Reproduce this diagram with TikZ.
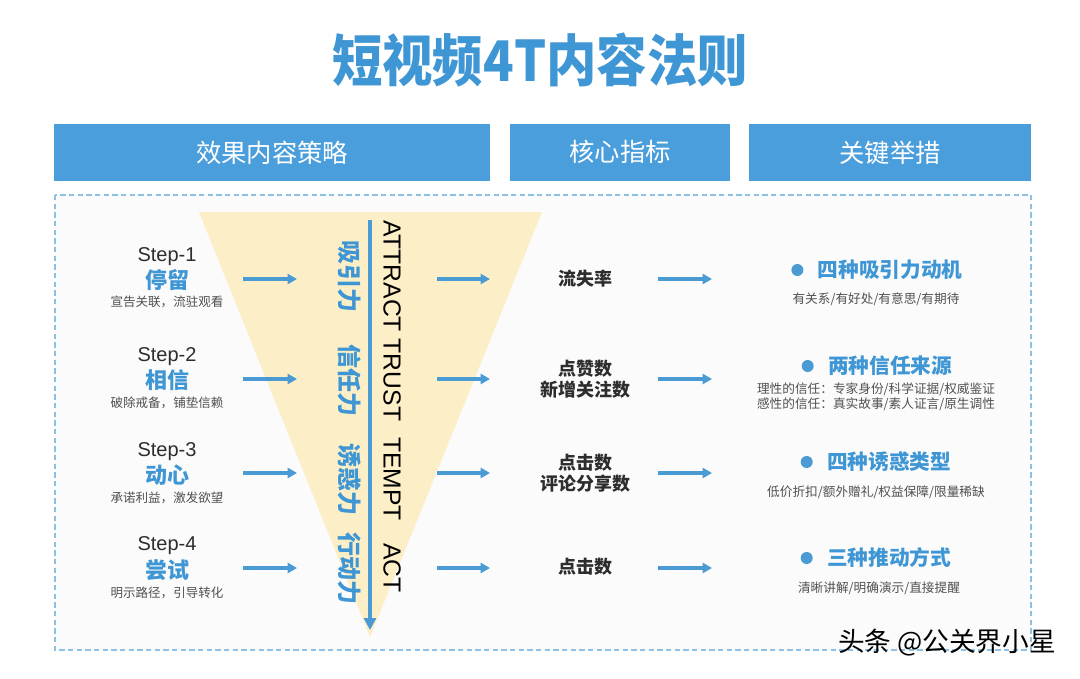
\documentclass[tikz,border=0pt]{standalone}
\usepackage{fontspec}
\setmainfont{Noto Sans CJK SC}
\newfontfamily\latinsf{Liberation Sans}
\usepackage{tikz}
\usepackage{xcolor}
\usetikzlibrary{shapes,arrows.meta,positioning,calc}

\definecolor{hdblue}{RGB}{74,158,219}
\definecolor{tblue}{RGB}{62,150,212}
\definecolor{arblue}{RGB}{74,155,212}
\definecolor{funnelc}{RGB}{252,238,198}
\definecolor{framec}{RGB}{140,192,228}
\definecolor{bgc}{RGB}{251,251,251}
\definecolor{dark}{RGB}{45,45,45}
\definecolor{subgray}{RGB}{80,80,80}

\begin{document}
\begin{tikzpicture}[
    x=0.75pt, y=-0.75pt,
    head/.style={rectangle, fill=hdblue, text=white, minimum height=42.75pt, font=\fontsize{19}{22}\selectfont},
    stepno/.style={font=\latinsf\fontsize{15}{17}\selectfont, text=dark},
    stepname/.style={font=\bfseries\fontsize{16.5}{18}\selectfont, text=tblue},
    stepsub/.style={font=\fontsize{9.4}{11}\selectfont, text=subgray},
    flow/.style={line width=2.4pt, arblue, -{Triangle[length=7pt,width=7.5pt]}},
    power/.style={rotate=-90, font=\bfseries\fontsize{18}{20}\selectfont, text=tblue},
    eng/.style={rotate=-90, font=\latinsf\fontsize{18.5}{20}\selectfont, text=black},
    metric/.style={align=center, font=\bfseries\fontsize{13.5}{16}\selectfont, text=dark},
    key/.style={font=\bfseries\fontsize{15.5}{18}\selectfont, text=tblue},
    dot/.style={circle, fill=arblue, inner sep=0pt, minimum size=9pt},
    keysub/.style={align=center, font=\fontsize{9.5}{11.5}\selectfont, text=subgray}
]
    \fill[white] (0,0) rectangle (1080,678);
    \useasboundingbox (0,0) rectangle (1080,678);

    % title and column heads
    \node[font=\bfseries\fontsize{42}{46}\selectfont, text=tblue, xscale=0.9] (title) at (540,60) {短视频4T内容法则};
    \node[head, minimum width=327pt] (h1) at (272,152.5) {效果内容策略};
    \node[head, minimum width=165pt] (h2) at (620,152) {核心指标};
    \node[head, minimum width=211.5pt] (h3) at (890,152.5) {关键举措};

    \draw[framec, fill=bgc, line width=0.8pt, dash pattern=on 4pt off 2.5pt] (55,195) rectangle (1031,650);

    % funnel
    \fill[funnelc] (199,212) -- (542,212) -- (370,637) -- cycle;
    \coordinate (vtop) at (370,220);
    \coordinate (vend) at (370,630);
    \draw[line width=2.4pt, arblue, -{Triangle[length=9pt,width=9pt]}] (vtop) -- (vend);

    \node[power] (p1) at (350,276) {吸引力};
    \node[power] (p2) at (350,380) {信任力};
    \node[power] (p3) at (350,479) {诱惑力};
    \node[power] (p4) at (350,568) {行动力};
    \node[eng] (e1) at (392,276) {ATTRACT};
    \node[eng] (e2) at (392,380) {TRUST};
    \node[eng] (e3) at (392,479) {TEMPT};
    \node[eng] (e4) at (392,568) {ACT};

    % steps
    \node[stepno] (n1) at (167,257) {Step-1};
    \node[stepname] (t1) at (167,280) {停留};
    \node[stepsub] (u1) at (167,302) {宣告关联，流驻观看};
    \node[stepno] (n2) at (167,357) {Step-2};
    \node[stepname] (t2) at (167,380) {相信};
    \node[stepsub] (u2) at (167,403) {破除戒备，铺垫信赖};
    \node[stepno] (n3) at (167,452) {Step-3};
    \node[stepname] (t3) at (167,475) {动心};
    \node[stepsub] (u3) at (167,498) {承诺利益，激发欲望};
    \node[stepno] (n4) at (167,546) {Step-4};
    \node[stepname] (t4) at (167,570) {尝试};
    \node[stepsub] (u4) at (167,593) {明示路径，引导转化};

    % metrics
    \node[metric] (m1) at (585,279) {流失率};
    \node[metric] (m2) at (585,379) {点赞数\\新增关注数};
    \node[metric] (m3) at (585,473) {点击数\\评论分享数};
    \node[metric] (m4) at (585,567) {点击数};

    % key measures
    \node[key] (k1) at (890,270) {四种吸引力动机};
    \node[dot, left=7pt of k1] (d1) {};
    \node[keysub] (s1) at (876,299) {有关系/有好处/有意思/有期待};
    \node[key] (k2) at (890,366) {两种信任来源};
    \node[dot, left=7pt of k2] (d2) {};
    \node[keysub] (s2) at (876,397) {理性的信任：专家身份/科学证据/权威鉴证\\感性的信任：真实故事/素人证言/原生调性};
    \node[key] (k3) at (889,462) {四种诱惑类型};
    \node[dot, left=7pt of k3] (d3) {};
    \node[keysub] (s3) at (876,492) {低价折扣/额外赠礼/权益保障/限量稀缺};
    \node[key] (k4) at (889,558) {三种推动方式};
    \node[dot, left=7pt of k4] (d4) {};
    \node[keysub] (s4) at (879,588) {清晰讲解/明确演示/直接提醒};

    % arrows
    \coordinate (a1) at (243,279); \coordinate (b1) at (297,279);
    \coordinate (c1) at (437,279); \coordinate (f1) at (490,279);
    \coordinate (g1) at (658,279); \coordinate (j1) at (712,279);
    \coordinate (a2) at (243,379); \coordinate (b2) at (297,379);
    \coordinate (c2) at (437,379); \coordinate (f2) at (490,379);
    \coordinate (g2) at (658,379); \coordinate (j2) at (712,379);
    \coordinate (a3) at (243,473); \coordinate (b3) at (297,473);
    \coordinate (c3) at (437,473); \coordinate (f3) at (490,473);
    \coordinate (g3) at (658,473); \coordinate (j3) at (712,473);
    \coordinate (a4) at (243,568); \coordinate (b4) at (297,568);
    \coordinate (c4) at (437,568); \coordinate (f4) at (490,568);
    \coordinate (g4) at (658,568); \coordinate (j4) at (712,568);
    \draw[flow] (a1) -- (b1); \draw[flow] (c1) -- (f1); \draw[flow] (g1) -- (j1);
    \draw[flow] (a2) -- (b2); \draw[flow] (c2) -- (f2); \draw[flow] (g2) -- (j2);
    \draw[flow] (a3) -- (b3); \draw[flow] (c3) -- (f3); \draw[flow] (g3) -- (j3);
    \draw[flow] (a4) -- (b4); \draw[flow] (c4) -- (f4); \draw[flow] (g4) -- (j4);

    \node[font=\fontsize{20}{22}\selectfont, text=black] (mark) at (947,643) {头条 @公关界小星};
\end{tikzpicture}
\end{document}
